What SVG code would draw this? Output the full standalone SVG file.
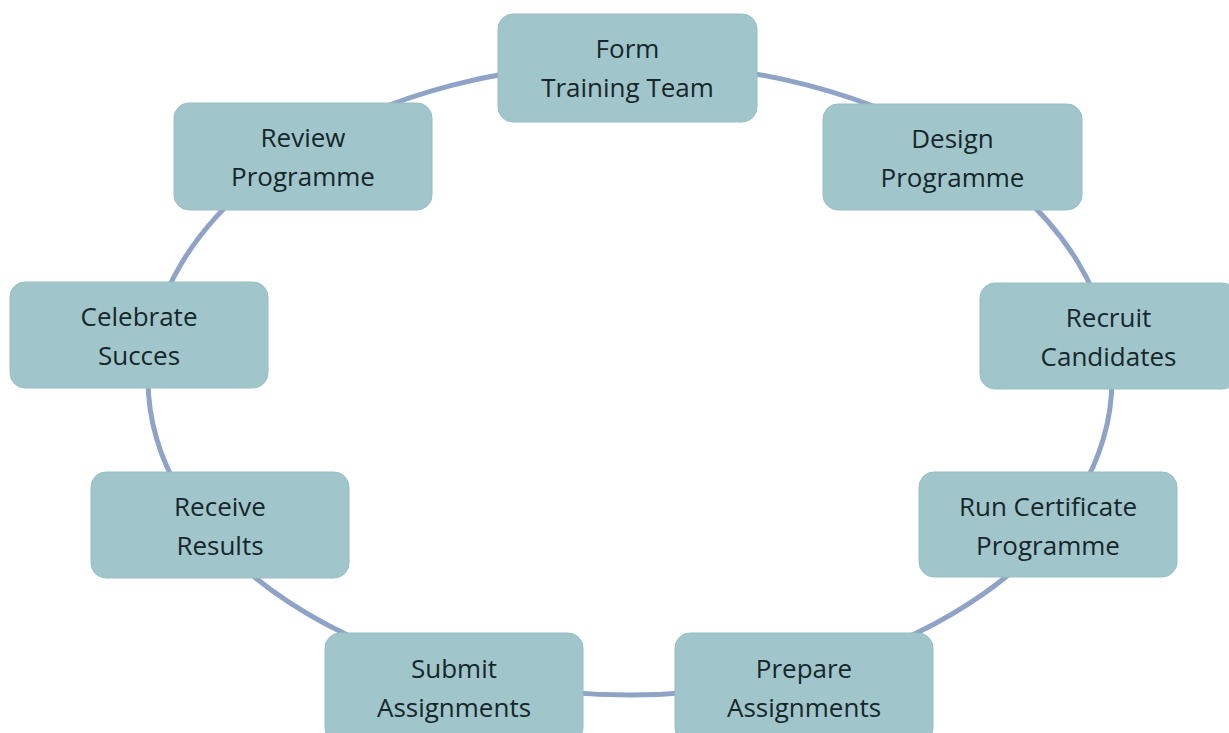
<svg xmlns="http://www.w3.org/2000/svg" width="1229" height="733" viewBox="0 0 1229 733">
<style>
.box{fill:#a0c6cb;stroke:#98bec4;stroke-width:1}
.lbl{font-family:"Open Sans","Noto Sans","Liberation Sans",sans-serif;font-size:26px;fill:#17262a;text-anchor:middle}
.ring{fill:none;stroke:#8fa3c6;stroke-width:5}
</style>
<rect width="1229" height="733" fill="#ffffff"/>
<g id="connectors">
<ellipse class="ring" cx="630" cy="379" rx="482" ry="316"/>
</g>
<g id="n1"><rect class="box" x="498" y="14" width="259" height="108" rx="15"/><text class="lbl" x="627.5" y="58">Form</text><text class="lbl" x="627.5" y="97">Training Team</text></g>
<g id="n2"><rect class="box" x="823" y="104" width="259" height="106" rx="15"/><text class="lbl" x="952.5" y="148">Design</text><text class="lbl" x="952.5" y="187">Programme</text></g>
<g id="n3"><rect class="box" x="980" y="283" width="257" height="106" rx="15"/><text class="lbl" x="1108.5" y="327">Recruit</text><text class="lbl" x="1108.5" y="366">Candidates</text></g>
<g id="n4"><rect class="box" x="919" y="472" width="258" height="105" rx="15"/><text class="lbl" x="1048" y="516">Run Certificate</text><text class="lbl" x="1048" y="555">Programme</text></g>
<g id="n5"><rect class="box" x="675" y="633" width="258" height="110" rx="15"/><text class="lbl" x="804" y="678">Prepare</text><text class="lbl" x="804" y="717">Assignments</text></g>
<g id="n6"><rect class="box" x="325" y="633" width="258" height="110" rx="15"/><text class="lbl" x="454" y="678">Submit</text><text class="lbl" x="454" y="717">Assignments</text></g>
<g id="n7"><rect class="box" x="91" y="472" width="258" height="106" rx="15"/><text class="lbl" x="220" y="516">Receive</text><text class="lbl" x="220" y="555">Results</text></g>
<g id="n8"><rect class="box" x="10" y="282" width="258" height="106" rx="15"/><text class="lbl" x="139" y="326">Celebrate</text><text class="lbl" x="139" y="365">Succes</text></g>
<g id="n9"><rect class="box" x="174" y="103" width="258" height="107" rx="15"/><text class="lbl" x="303" y="147">Review</text><text class="lbl" x="303" y="186">Programme</text></g>
</svg>
